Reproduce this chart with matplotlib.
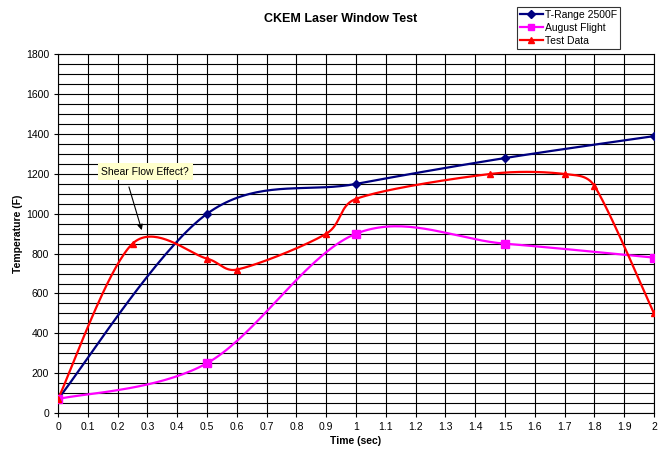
import numpy as np
import matplotlib
matplotlib.use("Agg")
import matplotlib.pyplot as plt

plt.rcParams['font.family'] = ['Liberation Sans', 'DejaVu Sans']

# data
trange_t = [0, 0.5, 1.0, 1.5, 2.0]
trange_temp = [70, 1000, 1150, 1280, 1390]

august_t = [0, 0.5, 1.0, 1.5, 2.0]
august_temp = [70, 250, 900, 850, 780]

test_t = [0, 0.25, 0.5, 0.6, 0.9, 1.0, 1.45, 1.7, 1.8, 2.0]
test_temp = [70, 850, 775, 720, 900, 1075, 1200, 1200, 1140, 500]


def smooth(ax, xs, ys, n=40, lim=0.4):
    """Smoothed line like a spreadsheet: Bezier segments with 1/6 neighbour
    tangents, clipped so a control arm is not longer than lim * segment."""
    data = np.column_stack([xs, ys]).astype(float)
    pts = ax.transData.transform(data)
    out = []
    for i in range(len(pts) - 1):
        p0 = pts[i - 1] if i > 0 else pts[i]
        p1 = pts[i]
        p2 = pts[i + 1]
        p3 = pts[i + 2] if i + 2 < len(pts) else pts[i + 1]
        d12 = np.hypot(*(p2 - p1))
        a1 = (p2 - p0) / 6
        a2 = (p3 - p1) / 6
        for a in (a1, a2):
            la = np.hypot(*a)
            if la > lim * d12:
                a *= lim * d12 / la
        c1 = p1 + a1
        c2 = p2 - a2
        t = np.linspace(0, 1, n)[:, None]
        seg = ((1 - t) ** 3 * p1 + 3 * (1 - t) ** 2 * t * c1
               + 3 * (1 - t) * t ** 2 * c2 + t ** 3 * p2)
        out.append(seg if i == 0 else seg[1:])
    seg = ax.transData.inverted().transform(np.vstack(out))
    return seg[:, 0], seg[:, 1]


fig = plt.figure(figsize=(6.66, 4.5), dpi=100)
ax = fig.add_axes([0.0871, 0.0822, 0.8949, 0.7968])
ax.set_xlim(0, 2)
ax.set_ylim(0, 1800)

series = [
    (trange_t, trange_temp, '#000080', 'D', 4.5, 'T-Range 2500F'),
    (august_t, august_temp, '#FF00FF', 's', 6, 'August Flight'),
    (test_t, test_temp, '#FF0000', '^', 4.8, 'Test Data'),
]
for xs, ys, col, mk, ms, lab in series:
    sx, sy = smooth(ax, xs, ys)
    ax.plot(sx, sy, color=col, lw=1.6, zorder=3)
    ax.plot(xs, ys, linestyle='none', marker=mk, ms=ms, color=col, zorder=4)
    ax.plot([], [], color=col, lw=1.6, marker=mk, ms=ms * 0.8, label=lab)

xt = np.arange(0, 2.01, 0.1)
ax.set_xticks(xt)
ax.set_xticklabels([f'{v:.1f}'.rstrip('0').rstrip('.') for v in xt])
ax.set_yticks(np.arange(0, 1801, 200))
ax.set_yticks(np.arange(0, 1801, 50), minor=True)
ax.tick_params(axis='y', which='minor', length=0)
ax.tick_params(labelsize=7.5, length=3, width=0.8, colors='black')
ax.grid(True, which='both', color='black', lw=0.8)
ax.set_axisbelow(True)
for s in ax.spines.values():
    s.set_color('black')
    s.set_linewidth(0.8)

ax.set_xlabel('Time (sec)', fontsize=7.5, fontweight='bold', labelpad=3)
ax.set_ylabel('Temperature (F)', fontsize=7.5, fontweight='bold', labelpad=2)
fig.text(0.511, 0.957, 'CKEM Laser Window Test', ha='center', va='center',
         fontsize=9, fontweight='bold')

ax.text(0.292, 1212, 'Shear Flow Effect?', ha='center', va='center',
        fontsize=7.5, zorder=5,
        bbox=dict(boxstyle='square,pad=0.35', fc='#FFFFCC', ec='none'))
ax.annotate('', xy=(0.281, 918), xytext=(0.238, 1135),
            arrowprops=dict(arrowstyle='-|>', color='black', lw=0.8,
                            shrinkA=0, shrinkB=0, mutation_scale=8),
            zorder=5)

leg = fig.legend(loc='upper left', bbox_to_anchor=(0.776, 0.985),
                 fontsize=7.5, frameon=True, fancybox=False, borderpad=0.3,
                 handlelength=2.2, handletextpad=0.2, labelspacing=0.3,
                 borderaxespad=0)
leg.get_frame().set_edgecolor('black')
leg.get_frame().set_linewidth(0.8)

fig.savefig('out.png', dpi=100)
